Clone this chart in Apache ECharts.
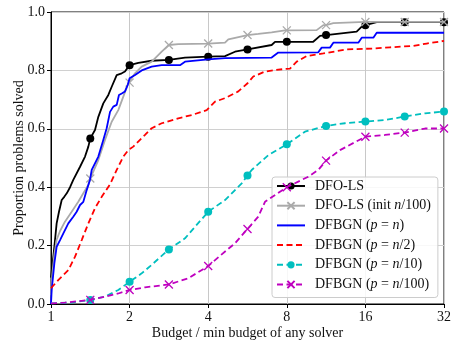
<!DOCTYPE html>
<html><head><meta charset="utf-8">
<script src="https://cdn.jsdelivr.net/npm/echarts@6/dist/echarts.min.js"></script>
<style>html,body{margin:0;padding:0;background:#fff}#c{width:451px;height:342px}</style>
</head><body><div id="c"></div>
<script>
const xTicks = [1, 2, 4, 8, 16, 32];
const yTicks = [0, 0.2, 0.4, 0.6, 0.8, 1.0];
const markerBudgets = [1.414, 2, 2.828, 4, 5.657, 8, 11.31, 16, 22.63, 32];
const seriesNames = ['DFO-LS', 'DFO-LS (init n/100)', 'DFBGN (p = n)', 'DFBGN (p = n/2)', 'DFBGN (p = n/10)', 'DFBGN (p = n/100)'];
const seriesColors = ['#000000', '#aaaaaa', '#0000ff', '#ff0000', '#00bfbf', '#bf00bf'];

const dfoLS = [[1,0.09],[1.011,0.128],[1.03,0.196],[1.051,0.276],[1.073,0.316],[1.099,0.356],[1.124,0.367],[1.149,0.379],[1.183,0.40],[1.217,0.425],[1.292,0.47],[1.35,0.505],[1.39,0.539],[1.414,0.567],[1.474,0.596],[1.518,0.641],[1.586,0.687],[1.658,0.716],[1.708,0.744],[1.785,0.784],[1.866,0.79],[1.92,0.796],[2,0.818],[2.16,0.826],[2.43,0.833],[2.828,0.836],[3.26,0.844],[4,0.847],[4.64,0.849],[5.066,0.864],[5.657,0.872],[7.0,0.887],[7.21,0.898],[8,0.898],[10.1,0.898],[10.72,0.918],[11.31,0.921],[14.81,0.933],[15.49,0.95],[16,0.955],[17.68,0.965],[22.63,0.965],[32,0.965]];
const dfoLSInit = [[1,0.03],[1.011,0.10],[1.03,0.17],[1.051,0.22],[1.083,0.25],[1.131,0.282],[1.2,0.316],[1.272,0.35],[1.33,0.379],[1.39,0.408],[1.414,0.43],[1.518,0.493],[1.61,0.562],[1.708,0.624],[1.81,0.664],[1.892,0.71],[1.977,0.756],[2,0.758],[2.098,0.79],[2.225,0.813],[2.43,0.83],[2.654,0.864],[2.828,0.887],[3.073,0.89],[4,0.892],[4.64,0.895],[4.777,0.906],[5.657,0.921],[6.22,0.925],[7.0,0.93],[7.87,0.937],[8,0.937],[10.41,0.938],[11.04,0.955],[11.31,0.955],[12.06,0.962],[16,0.966],[22.63,0.966],[32,0.966]];
const dfbgnFull = [[1,0.0],[1.006,0.048],[1.03,0.139],[1.051,0.196],[1.083,0.219],[1.115,0.242],[1.165,0.276],[1.217,0.299],[1.254,0.316],[1.292,0.339],[1.33,0.35],[1.37,0.39],[1.41,0.425],[1.432,0.459],[1.518,0.505],[1.586,0.562],[1.634,0.602],[1.683,0.658],[1.732,0.676],[1.785,0.682],[1.821,0.716],[1.866,0.721],[1.92,0.728],[1.967,0.75],[2,0.773],[2.098,0.784],[2.225,0.80],[2.43,0.813],[2.654,0.818],[3.119,0.818],[3.26,0.83],[4,0.838],[4.64,0.842],[7.0,0.844],[7.42,0.861],[10.56,0.862],[10.88,0.878],[11.71,0.878],[12.06,0.895],[15.03,0.895],[15.49,0.912],[17.16,0.912],[17.68,0.929],[32,0.929]];
const dfbgnHalf = [[1,0.054],[1.066,0.082],[1.165,0.116],[1.236,0.162],[1.311,0.219],[1.39,0.276],[1.474,0.328],[1.564,0.367],[1.683,0.41],[1.785,0.459],[1.892,0.505],[1.977,0.527],[2.066,0.539],[2.192,0.562],[2.291,0.579],[2.43,0.602],[2.654,0.619],[3.073,0.636],[3.458,0.647],[3.948,0.664],[4.248,0.693],[4.64,0.705],[5.216,0.728],[5.66,0.756],[5.953,0.779],[6.6,0.796],[7.21,0.801],[7.87,0.805],[8.23,0.806],[8.73,0.83],[9.53,0.849],[11.04,0.858],[13.56,0.872],[17.16,0.875],[19.88,0.879],[24.41,0.884],[27.47,0.892],[32,0.901]];
const dfbgnTenth = [[1,0.002],[1.2,0.005],[1.414,0.014],[1.61,0.025],[1.81,0.048],[2,0.076],[2.225,0.105],[2.43,0.134],[2.828,0.187],[3.26,0.225],[4,0.316],[4.64,0.356],[5.375,0.413],[5.657,0.440],[5.87,0.459],[6.8,0.51],[8,0.547],[9.39,0.59],[11.31,0.61],[13.36,0.619],[16,0.625],[19.03,0.63],[22.63,0.642],[27.06,0.653],[32,0.659]];
const dfbgnHundredth = [[1,0.002],[1.131,0.005],[1.414,0.014],[1.61,0.025],[1.81,0.036],[2,0.048],[2.291,0.057],[2.828,0.067],[3.356,0.088],[4,0.13],[4.507,0.17],[5.066,0.208],[5.657,0.257],[6.22,0.299],[6.6,0.35],[8,0.40],[9.67,0.436],[10.56,0.459],[11.31,0.491],[12.79,0.527],[16,0.573],[19.03,0.579],[22.63,0.587],[27.06,0.601],[32,0.601]];

const seriesData = [dfoLS, dfoLSInit, dfbgnFull, dfbgnHalf, dfbgnTenth, dfbgnHundredth];
const CROSS = 'path://M0,0L10,10M10,0L0,10';
const seriesSymbols = ['circle', CROSS, 'none', 'none', 'circle', CROSS];
const seriesDashed = [false, false, false, true, true, true];

const legendRich = {
  'DFO-LS': '{s| }{r|DFO-LS}',
  'DFO-LS (init n/100)': '{s| }{r|DFO-LS (init }{i|n}{r|/100)}',
  'DFBGN (p = n)': '{s| }{r|DFBGN (}{i|p}{r| = }{i|n}{r|)}',
  'DFBGN (p = n/2)': '{s| }{r|DFBGN (}{i|p}{r| = }{i|n}{r|/2)}',
  'DFBGN (p = n/10)': '{s| }{r|DFBGN (}{i|p}{r| = }{i|n}{r|/10)}',
  'DFBGN (p = n/100)': '{s| }{r|DFBGN (}{i|p}{r| = }{i|n}{r|/100)}'
};

function isMarker(x) {
  return markerBudgets.some(m => Math.abs(m - x) < 1e-3);
}

const FONT = 'Liberation Serif';
const chart = echarts.init(document.getElementById('c'), null, {renderer: 'canvas'});
const series = seriesNames.map((name, k) => ({
  name: name,
  type: 'line',
  data: seriesData[k],
  symbol: seriesSymbols[k] === 'none' ? 'circle' : seriesSymbols[k],
  showSymbol: seriesSymbols[k] !== 'none',
  showAllSymbol: true,
  symbolSize: (v) => isMarker(v[0]) ? 8 : 0,
  lineStyle: {color: seriesColors[k], width: 1.8, type: seriesDashed[k] ? [6, 3.5] : 'solid'},
  itemStyle: {color: seriesColors[k], borderColor: seriesColors[k], borderWidth: seriesSymbols[k] === CROSS ? 1.3 : 0},
  emphasis: {disabled: true},
  z: 2 + k
}));

chart.setOption({
  animation: false,
  grid: {left: 51, right: 7, top: 12, bottom: 38, containLabel: false, outerBoundsMode: 'none', show: true, borderColor: '#000', borderWidth: 1, backgroundColor: 'transparent'},
  xAxis: {
    type: 'log', logBase: 2, min: xTicks[0], max: xTicks[xTicks.length - 1],
    name: 'Budget / min budget of any solver', nameLocation: 'middle', nameGap: 22, nameMoveOverlap: false,
    nameTextStyle: {fontFamily: FONT, fontSize: 14, color: '#111'},
    axisLine: {lineStyle: {color: '#000', width: 1}},
    axisTick: {show: true, length: 4, lineStyle: {color: '#000'}},
    axisLabel: {fontFamily: FONT, fontSize: 14, color: '#111', margin: 6, formatter: v => String(Math.round(v))},
    splitLine: {show: true, lineStyle: {color: '#c8c8c8', width: 1}},
    minorTick: {show: false}
  },
  yAxis: {
    type: 'value', min: yTicks[0], max: yTicks[yTicks.length - 1], interval: 0.2,
    name: 'Proportion problems solved', nameLocation: 'middle', nameGap: 25, nameMoveOverlap: false,
    nameTextStyle: {fontFamily: FONT, fontSize: 14, color: '#111'},
    axisLine: {show: true, lineStyle: {color: '#000', width: 1}},
    axisTick: {show: true, length: 4, lineStyle: {color: '#000'}},
    axisLabel: {fontFamily: FONT, fontSize: 14, color: '#111', margin: 6, formatter: v => v.toFixed(1)},
    splitLine: {show: true, lineStyle: {color: '#d0d0d0', width: 1}}
  },
  legend: {
    orient: 'vertical', left: 272, top: 177,
    itemWidth: 28, itemHeight: 9, itemGap: 5.7,
    padding: [2, 7, 6, 4],
    backgroundColor: 'rgba(255,255,255,0.85)', borderColor: '#cccccc', borderWidth: 1, borderRadius: 3,
    data: seriesNames.map((n, k) => seriesSymbols[k] === 'none' ? {name: n, itemStyle: {opacity: 0}} : {name: n}),
    formatter: name => legendRich[name],
    textStyle: {
      fontFamily: FONT, fontSize: 14, color: '#111',
      rich: {
        s: {width: 5, fontSize: 14, fontFamily: FONT},
        r: {fontFamily: FONT, fontSize: 14, color: '#111'},
        i: {fontFamily: FONT, fontSize: 14, fontStyle: 'italic', color: '#111'}
      }
    }
  },
  series: series
});
</script></body></html>
